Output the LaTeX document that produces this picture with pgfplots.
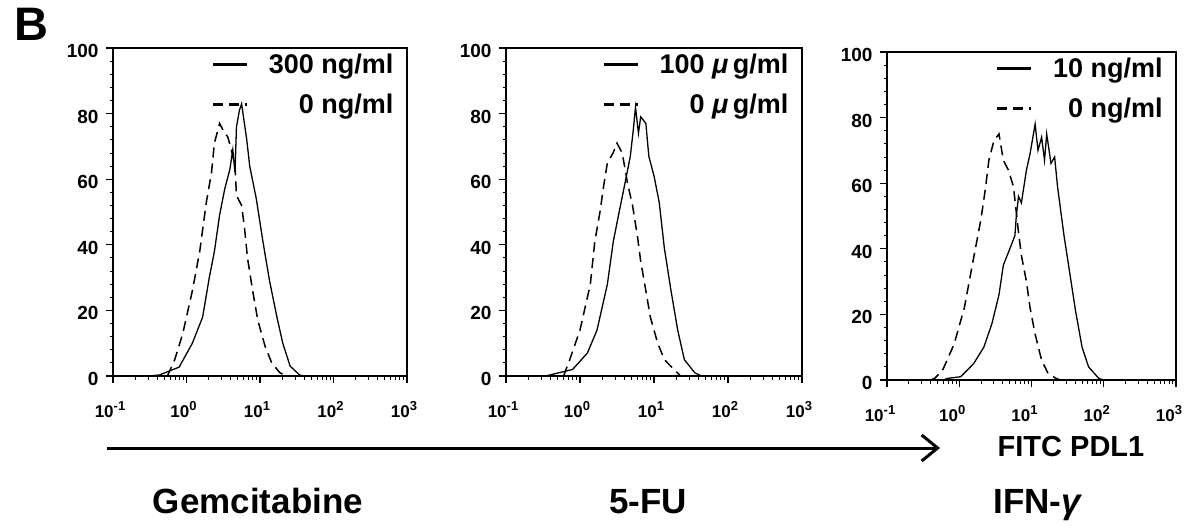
\documentclass[border=0pt]{standalone}
\usepackage{fontspec}
\setmainfont{Liberation Sans}
\usepackage{pgfplots}
\pgfplotsset{compat=1.18}
\usetikzlibrary{arrows.meta}

\newcommand{\tenp}[1]{{\fontsize{17}{17}\selectfont\bfseries 10\raisebox{7pt}{\fontsize{13}{13}\selectfont #1}}}

\pgfplotsset{
  histpanel/.style={
    anchor=south west, scale only axis, height=328pt,
    xmin=0.1, xmax=1000, ymin=0, ymax=100,
    xtick={0.1,1,10,100,1000},
    xticklabels={\tenp{-1},\tenp{0},\tenp{1},\tenp{2},\tenp{3}},
    minor xtick={0.2,0.3,0.4,0.5,0.6,0.7,0.8,0.9,2,3,4,5,6,7,8,9,20,30,40,50,60,70,80,90,200,300,400,500,600,700,800,900},
    ytick={0,20,40,60,80,100}, minor y tick num=4,
    xtick pos=bottom, ytick pos=left, tick align=outside,
    major tick length=7pt, minor tick length=3.5pt,
    tick style={black, line width=1.2pt},
    minor tick style={line width=0.9pt},
    axis line style={line width=1.2pt},
    /pgf/number format/assume math mode=true,
    yticklabel style={font=\fontsize{19}{19}\selectfont\bfseries, xshift=-4pt, yshift=-3pt},
    xticklabel style={yshift=-15pt, xshift=-3pt},
    legend style={draw=none, fill=none, at={(rel axis cs:0.975,0.995)}, anchor=north east,
      font=\fontsize{27}{27}\selectfont\bfseries, row sep=15pt,
      nodes={inner xsep=3pt}},
    legend cell align=right,
    legend image code/.code={\draw[##1, line width=3pt] (0pt,0pt) -- (34pt,0pt); \path (52pt,0pt);},
  },
}

\begin{document}
\begin{tikzpicture}[x=1pt,y=1pt]
\useasboundingbox (0,0) rectangle (1184,528);

% Gemcitabine
\begin{axis}[xmode=log, histpanel, at={(113pt,152pt)}, width=294pt]
\addplot[black, line width=1.3pt] coordinates {
 (0.30,0) (0.427,0.3) (0.794,2.7) (1.202,10) (1.660,18) (2.042,30) (2.399,38)
 (2.818,49) (3.311,57) (3.890,63) (4.266,69) (4.571,62) (4.786,76) (5.248,81)
 (5.623,83) (6.607,72) (7.244,64) (8.913,54) (10.96,41) (13.49,29) (16.98,18)
 (20.42,10) (25.70,3) (34.67,0.3) (40,0)};
\addlegendentry{300 ng/ml}
\addplot[black, line width=1.5pt, dash pattern=on 10pt off 6pt] coordinates {
 (0.55,0) (0.692,5) (0.891,13) (1.202,26) (1.514,38) (1.862,53) (2.188,62)
 (2.399,71) (2.818,77) (3.311,74) (3.631,73) (4.074,69) (4.571,64) (4.786,55)
 (5.623,52) (6.166,45) (6.761,36) (7.943,26) (9.333,17) (11.75,9) (14.45,4)
 (18.62,1) (22.91,0)};
\addlegendentry{0 ng/ml}
\end{axis}

% 5-FU
\begin{axis}[xmode=log, histpanel, at={(506pt,152pt)}, width=296pt]
\addplot[black, line width=1.3pt] coordinates {
 (0.35,0) (0.389,0.3) (0.794,2) (1.259,7) (1.698,14) (2.344,28) (2.818,41)
 (3.311,49) (4.074,59) (4.786,67) (5.248,75) (5.623,82) (6.166,74) (6.607,79)
 (7.762,77) (8.511,67) (10,61) (11.75,53) (13.80,39) (16.98,26) (20.89,14)
 (25.70,5) (35.48,1) (43.65,0)};
\addlegendentry{100 \textit{μ}\,g/ml}
\addplot[black, line width=1.5pt, dash pattern=on 10pt off 6pt] coordinates {
 (0.6,0) (0.724,4.9) (1,14) (1.380,28) (1.585,41) (1.862,50) (2.089,58)
 (2.344,65) (2.8,68) (3.162,71) (3.715,68) (4.074,63) (4.365,59) (5.129,52)
 (6.026,42) (6.607,35) (7.762,26) (8.913,18) (11.22,10) (13.80,5) (18.62,2)
 (22.91,0)};
\addlegendentry{0 \textit{μ}\,g/ml}
\end{axis}

% IFN-gamma
\begin{axis}[xmode=log, histpanel, at={(887pt,148pt)}, width=289pt,
  xticklabel style={xshift=-4pt}]
\addplot[black, line width=1.3pt] coordinates {
 (0.6,0) (0.692,0.5) (1.047,1) (1.585,5) (2.188,10) (2.818,17) (3.548,26)
 (4.074,35) (5.012,40) (5.888,44) (6.166,50) (6.607,56) (7.244,54) (8.511,64)
 (9.550,69) (11.22,78) (12.30,70) (13.80,74) (15.14,67) (16.22,75) (18.62,66)
 (20.89,68) (22.91,59) (28.18,44) (33.11,34) (40.74,21) (50.12,10) (61.66,4)
 (85.11,0.5) (100,0)};
\addlegendentry{10 ng/ml}
\addplot[black, line width=1.5pt, dash pattern=on 10pt off 6pt] coordinates {
 (0.40,0) (0.457,0.5) (0.589,3) (0.851,11) (1.175,22) (1.514,35) (1.995,49)
 (2.291,58) (2.570,67) (3.020,73) (3.548,75) (4.074,67) (4.786,64) (5.623,59)
 (6.607,45) (7.244,38) (8.511,30) (9.550,22) (11.22,14) (13.80,6) (16.98,2)
 (21.88,0.5) (25,0)};
\addlegendentry{0 ng/ml}
\end{axis}

\node[anchor=north west, inner sep=0pt, font=\fontsize{47}{47}\selectfont\bfseries] at (14,520) {B};
\draw[line width=3pt, -{Straight Barb[length=16pt, width=26pt, line width=3pt]}] (107,80) -- (940,80);
\node[font=\fontsize{29}{29}\selectfont\bfseries] at (1071,81) {FITC PDL1};
\node[anchor=base, font=\fontsize{35}{35}\selectfont\bfseries] at (258,15) {Gemcitabine};
\node[anchor=base, font=\fontsize{35}{35}\selectfont\bfseries] at (648,15) {5-FU};
\node[anchor=base, font=\fontsize{35}{35}\selectfont\bfseries] at (1038,15) {IFN-\textit{γ}};
\end{tikzpicture}
\end{document}
